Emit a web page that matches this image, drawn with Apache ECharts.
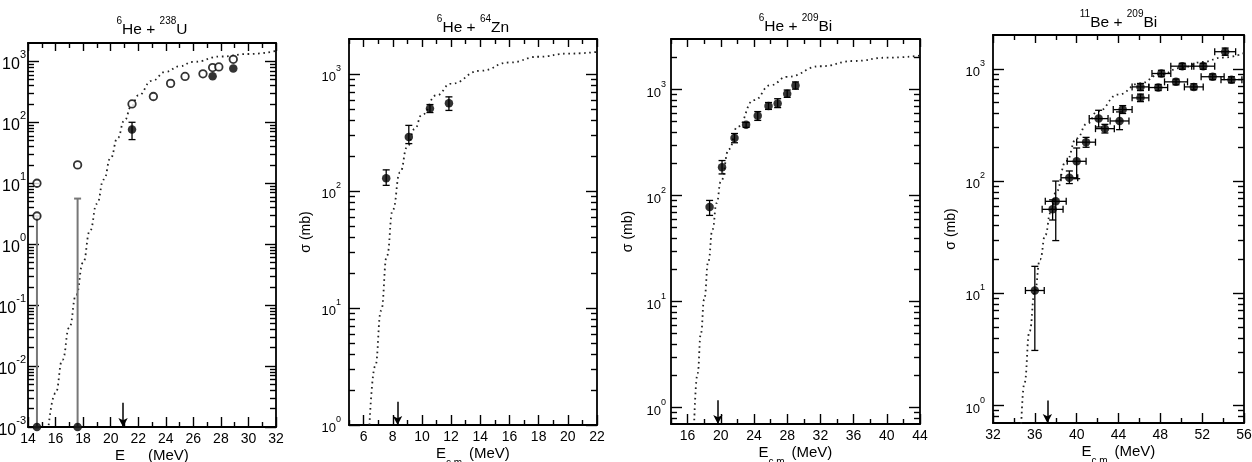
<!DOCTYPE html>
<html><head><meta charset="utf-8">
<script src="https://cdn.jsdelivr.net/npm/echarts@6/dist/echarts.min.js"></script>
<style>html,body{margin:0;padding:0;background:#fff}#c{width:1252px;height:462px}</style>
</head><body><div id="c"></div>
<script>
// ---------------- DATA ----------------
// panel titles: [projectile mass, projectile, target mass, target]
const titleParts = [['6','He','238','U'], ['6','He','64','Zn'], ['6','He','209','Bi'], ['11','Be','209','Bi']];
// axis ranges (E in MeV, sigma in mb)
const xMin = [14, 5, 14, 32];
const xMax = [32, 22, 44, 56];
const xMajorStep = [2, 2, 4, 4];
const xMinorStep = [1, 1, 2, 2];
const yMinMb = [0.001, 1, 0.7, 0.7];
const yMaxMb = [2000, 2000, 3000, 2000];

// Panel 1: 6He + 238U
const uOpenX = [14.65, 14.65, 17.6, 21.55, 23.1, 24.35, 25.4, 26.7, 27.4, 27.85, 28.9];
const uOpenY = [10, 2.9, 20, 200, 265, 435, 565, 625, 790, 810, 1080];
const uFillX = [21.55, 27.4, 28.9];
const uFillY = [76, 570, 760];
const uFillLo = [52, 570, 760];
const uFillHi = [100, 570, 760];
const uLimX = [14.65, 17.6];
const uLimY = [0.001, 0.001];
const uLimHi = [2.9, 5.6];
const uCurveX = [15.5, 16.0, 16.5, 17.0, 17.5, 18.0, 18.5, 19.0, 19.5, 20.0, 20.5, 21.0, 21.5, 22.0, 23.0, 24.0, 25.0, 26.0, 28.0, 30.0, 32.0];
const uCurveY = [0.00107, 0.0036, 0.0126, 0.043, 0.148, 0.50, 1.66, 4.6, 11.5, 26, 55, 107, 182, 275, 480, 675, 830, 980, 1200, 1320, 1480];

// Panel 2: 6He + 64Zn
const zX = [7.55, 9.1, 10.55, 11.85];
const zY = [129, 290, 510, 565];
const zLo = [112, 255, 470, 490];
const zHi = [152, 365, 550, 640];
const zCurveX = [6.4, 6.8, 7.2, 7.6, 8.0, 8.5, 9.0, 9.5, 10.0, 11.0, 12.0, 14.0, 16.0, 18.0, 20.0, 22.0];
const zCurveY = [1.0, 3.2, 9.5, 28, 69, 145, 240, 340, 450, 660, 830, 1070, 1260, 1410, 1500, 1550];

// Panel 3: 6He + 209Bi
const biX = [18.65, 20.15, 21.65, 23.05, 24.45, 25.75, 26.85, 28.0, 29.0];
const biY = [78, 185, 350, 465, 565, 700, 740, 915, 1090];
const biLo = [65, 160, 315, 440, 512, 650, 676, 845, 1010];
const biHi = [90, 214, 385, 490, 620, 755, 820, 990, 1180];
const biCurveX = [16.8, 17.2, 17.6, 18.0, 18.5, 19.0, 19.5, 20.0, 21.0, 22.0, 24.0, 26.0, 28.0, 32.0, 36.0, 40.0, 44.0];
const biCurveY = [0.76, 2.1, 5.0, 10.5, 24, 48, 85, 135, 275, 445, 795, 1100, 1320, 1660, 1860, 2000, 2090];

// Panel 4: 11Be + 209Bi
const beX = [36.0, 37.7, 38.0, 39.3, 40.0, 40.9, 42.1, 42.7, 44.1, 44.4, 46.1, 46.1, 47.8, 48.1, 49.5, 50.1, 51.2, 52.1, 53.0, 54.2, 54.8];
const beY = [10.6, 56, 66, 107, 150, 222, 360, 293, 343, 433, 551, 690, 681, 908, 765, 1055, 690, 1055, 850, 1420, 800];
const beLo = [3.1, 45, 29.5, 95, 105, 200, 303, 268, 287, 400, 510, 640, 640, 850, 720, 990, 650, 990, 800, 1320, 750];
const beHi = [17.4, 68, 100, 123, 197, 245, 427, 320, 413, 470, 595, 740, 725, 970, 810, 1120, 735, 1120, 900, 1530, 850];
const beXErr = [0.9, 1.0, 1.0, 0.8, 0.9, 0.9, 0.9, 0.9, 0.9, 0.9, 0.8, 0.8, 0.9, 0.9, 1.1, 1.1, 0.9, 1.1, 1.1, 1.0, 1.0];
const beCurveX = [34.7, 35.0, 35.5, 36.0, 36.5, 37.0, 37.5, 38.0, 39.0, 40.0, 41.0, 42.0, 44.0, 46.0, 48.0, 50.0, 52.0, 54.0, 56.0];
const beCurveY = [0.69, 1.58, 4.6, 10.5, 20, 33, 52, 79, 151, 240, 324, 417, 590, 740, 890, 1020, 1150, 1260, 1380];

// Coulomb barrier arrows: energy and top of arrow (mb)
const arrowX = [20.9, 8.33, 19.65, 37.2];
const arrowTop = [0.0025, 1.58, 1.17, 1.11];

// ---------------- LAYOUT ----------------
const FONT = '"Liberation Sans", Arial, sans-serif';
const grids = [
  {left: 28, top: 43, width: 248, height: 384},
  {left: 349, top: 39, width: 248, height: 386},
  {left: 671, top: 39, width: 249, height: 385},
  {left: 993, top: 35, width: 251, height: 388}
];
const titleY = [27, 25, 24, 20];
const showYName = [false, true, true, true];
const yNameGap = [34, 36, 36, 35];
const xNameGap = [21, 21, 21, 21];
const yLabelSize = [16, 13, 13, 13];
const yLabelMargin = [2, 8, 5, 8];

const L = v => Math.log10(v);
function stepVals(min, max, step) {
  const out = [];
  for (let v = Math.ceil(min / step - 1e-9) * step; v <= max + 1e-9; v += step) out.push(+v.toFixed(6));
  return out;
}
const tickLS = {color: '#000', width: 1.4};

const xAxes = [], yAxes = [], series = [], graphics = [];

for (let i = 0; i < 4; i++) {
  const xMaj = stepVals(xMin[i], xMax[i], xMajorStep[i]);
  const xMinr = stepVals(xMin[i], xMax[i], xMinorStep[i]).filter(v => !xMaj.includes(v));
  const lmin = L(yMinMb[i]), lmax = L(yMaxMb[i]);
  const yMaj = [];
  for (let n = Math.ceil(lmin - 1e-9); n <= lmax + 1e-9; n++) yMaj.push(n);
  const yMinr = [];
  for (let n = Math.floor(lmin); n <= Math.floor(lmax); n++)
    for (let k = 2; k <= 9; k++) { const v = n + Math.log10(k); if (v > lmin + 1e-6 && v < lmax - 1e-6) yMinr.push(v); }

  const fs = yLabelSize[i];
  const supRich = {
    b: {fontSize: fs, lineHeight: fs + 7, verticalAlign: 'bottom', fontFamily: FONT, color: '#000'},
    s: {fontSize: Math.round(fs * 0.68), lineHeight: 10, verticalAlign: 'top', fontFamily: FONT, color: '#000'}
  };

  const xb = {gridIndex: i, type: 'value', min: xMin[i], max: xMax[i], splitLine: {show: false},
    axisLine: {show: true, onZero: false, lineStyle: {color: '#000', width: 1.8}}};
  xAxes.push(Object.assign({}, xb, {position: 'bottom',
    axisTick: {show: true, inside: true, length: 10, customValues: xMaj, lineStyle: tickLS},
    axisLabel: {show: true, customValues: xMaj, margin: 5, color: '#000', fontSize: 14, fontFamily: FONT},
    name: '{n|E}{sub|c.m.}{n| (MeV)}{sp| }', nameLocation: 'middle', nameGap: xNameGap[i], nameMoveOverlap: false,
    nameTextStyle: {rich: {
      n: {fontSize: 15, lineHeight: 16, verticalAlign: 'top', fontFamily: FONT, color: '#000'},
      sub: {fontSize: 10, lineHeight: 10, verticalAlign: 'bottom', fontFamily: FONT, color: '#000'},
      sp: {fontSize: 1, lineHeight: 22}
    }}}));
  xAxes.push(Object.assign({}, xb, {position: 'bottom', axisLine: {show: false, onZero: false},
    axisTick: {show: true, inside: true, length: 5, customValues: xMinr, lineStyle: tickLS}, axisLabel: {show: false}}));
  xAxes.push(Object.assign({}, xb, {position: 'top',
    axisTick: {show: true, inside: true, length: 8, customValues: xMaj, lineStyle: tickLS}, axisLabel: {show: false}}));
  xAxes.push(Object.assign({}, xb, {position: 'top', axisLine: {show: false, onZero: false},
    axisTick: {show: true, inside: true, length: 5, customValues: xMinr, lineStyle: tickLS}, axisLabel: {show: false}}));

  const yb = {gridIndex: i, type: 'value', min: lmin, max: lmax, splitLine: {show: false},
    axisLine: {show: true, onZero: false, lineStyle: {color: '#000', width: 1.8}}};
  yAxes.push(Object.assign({}, yb, {position: 'left',
    axisTick: {show: true, inside: true, length: 11, customValues: yMaj, lineStyle: tickLS},
    axisLabel: {show: true, customValues: yMaj, margin: yLabelMargin[i], formatter: v => '{b|10}{s|' + Math.round(v) + '}', rich: supRich},
    name: showYName[i] ? 'σ (mb)' : '', nameLocation: 'middle', nameGap: yNameGap[i], nameRotate: 90, nameMoveOverlap: false,
    nameTextStyle: {fontSize: 14, fontFamily: FONT, color: '#000'}}));
  yAxes.push(Object.assign({}, yb, {position: 'left', axisLine: {show: false, onZero: false},
    axisTick: {show: true, inside: true, length: 6, customValues: yMinr, lineStyle: tickLS}, axisLabel: {show: false}}));
  yAxes.push(Object.assign({}, yb, {position: 'right',
    axisTick: {show: true, inside: true, length: 11, customValues: yMaj, lineStyle: tickLS}, axisLabel: {show: false}}));
  yAxes.push(Object.assign({}, yb, {position: 'right', axisLine: {show: false, onZero: false},
    axisTick: {show: true, inside: true, length: 6, customValues: yMinr, lineStyle: tickLS}, axisLabel: {show: false}}));

  const t = titleParts[i];
  graphics.push({type: 'text', x: grids[i].left + grids[i].width / 2, y: titleY[i], silent: true,
    style: {text: '{s|' + t[0] + '}{n|' + t[1] + ' + }{s|' + t[2] + '}{n|' + t[3] + '}',
      align: 'center', verticalAlign: 'middle',
      rich: {n: {fontSize: 15.5, lineHeight: 21, verticalAlign: 'bottom', fontFamily: FONT, fill: '#000'},
             s: {fontSize: 10, lineHeight: 10, verticalAlign: 'top', fontFamily: FONT, fill: '#000'}}}});
}

function curveSeries(i, xs, ys) {
  return {type: 'line', xAxisIndex: 4 * i, yAxisIndex: 4 * i, silent: true, z: 1,
    data: xs.map((x, k) => [x, L(ys[k])]), symbol: 'none', smooth: 0.5, smoothMonotone: 'x',
    lineStyle: {color: '#222', width: 1.8, type: [1.6, 3.6], cap: 'butt'},
    markLine: {silent: true, symbol: ['none', 'arrow'], symbolSize: [7, 9], animation: false,
      label: {show: false}, lineStyle: {color: '#000', width: 1.5, type: 'solid'},
      data: [[{coord: [arrowX[i], L(arrowTop[i])]}, {coord: [arrowX[i], L(yMinMb[i])]}]]}};
}
function errSeries(i, rows, color, width) {
  return {type: 'custom', xAxisIndex: 4 * i, yAxisIndex: 4 * i, silent: true, clip: false, z: 3,
    data: rows, encode: {x: 0, y: 1},
    renderItem: function (params, api) {
      const x = api.value(0), lo = api.value(2), hi = api.value(3), xl = api.value(4), xh = api.value(5), y = api.value(1);
      const st = {stroke: color, lineWidth: width, fill: null};
      const ch = [], cap = 3.5;
      if (hi > lo) {
        const a = api.coord([x, lo]), b = api.coord([x, hi]);
        ch.push({type: 'line', shape: {x1: a[0], y1: a[1], x2: b[0], y2: b[1]}, style: st});
        ch.push({type: 'line', shape: {x1: a[0] - cap, y1: a[1], x2: a[0] + cap, y2: a[1]}, style: st});
        ch.push({type: 'line', shape: {x1: b[0] - cap, y1: b[1], x2: b[0] + cap, y2: b[1]}, style: st});
      }
      if (xh > xl) {
        const a = api.coord([xl, y]), b = api.coord([xh, y]);
        ch.push({type: 'line', shape: {x1: a[0], y1: a[1], x2: b[0], y2: b[1]}, style: st});
        ch.push({type: 'line', shape: {x1: a[0], y1: a[1] - cap, x2: a[0], y2: a[1] + cap}, style: st});
        ch.push({type: 'line', shape: {x1: b[0], y1: b[1] - cap, x2: b[0], y2: b[1] + cap}, style: st});
      }
      return {type: 'group', children: ch};
    }};
}
function filled(i, xs, ys) {
  return {type: 'scatter', xAxisIndex: 4 * i, yAxisIndex: 4 * i, silent: true, clip: false, z: 4,
    symbol: 'circle', symbolSize: 8.5, itemStyle: {color: '#000'}, data: xs.map((x, k) => [x, L(ys[k])])};
}
function open(i, xs, ys) {
  return {type: 'scatter', xAxisIndex: 4 * i, yAxisIndex: 4 * i, silent: true, clip: false, z: 4,
    symbol: 'circle', symbolSize: 7.5, itemStyle: {color: '#fff', borderColor: '#000', borderWidth: 1.8},
    data: xs.map((x, k) => [x, L(ys[k])])};
}

// panel 1
series.push(curveSeries(0, uCurveX, uCurveY));
series.push(errSeries(0, uLimX.map((x, k) => [x, L(uLimY[k]), L(uLimY[k]), L(uLimHi[k]), x, x]), '#777', 2));
series.push(errSeries(0, uFillX.map((x, k) => [x, L(uFillY[k]), L(uFillLo[k]), L(uFillHi[k]), x, x]), '#000', 1.3));
series.push(open(0, uOpenX, uOpenY));
series.push(filled(0, uFillX, uFillY));
series.push(filled(0, uLimX, uLimY));
// panel 2
series.push(curveSeries(1, zCurveX, zCurveY));
series.push(errSeries(1, zX.map((x, k) => [x, L(zY[k]), L(zLo[k]), L(zHi[k]), x, x]), '#000', 1.3));
series.push(filled(1, zX, zY));
// panel 3
series.push(curveSeries(2, biCurveX, biCurveY));
series.push(errSeries(2, biX.map((x, k) => [x, L(biY[k]), L(biLo[k]), L(biHi[k]), x, x]), '#000', 1.3));
series.push(filled(2, biX, biY));
// panel 4
series.push(curveSeries(3, beCurveX, beCurveY));
series.push(errSeries(3, beX.map((x, k) => [x, L(beY[k]), L(beLo[k]), L(beHi[k]), x - beXErr[k], x + beXErr[k]]), '#000', 1.3));
series.push(filled(3, beX, beY));

const chart = echarts.init(document.getElementById('c'), null, {renderer: 'canvas'});
chart.setOption({
  animation: false,
  backgroundColor: '#fff',
  textStyle: {fontFamily: FONT},
  grid: grids.map(g => Object.assign({containLabel: false, outerBoundsMode: 'none', show: false}, g)),
  xAxis: xAxes,
  yAxis: yAxes,
  graphic: graphics,
  series: series
});
</script>
</body></html>
